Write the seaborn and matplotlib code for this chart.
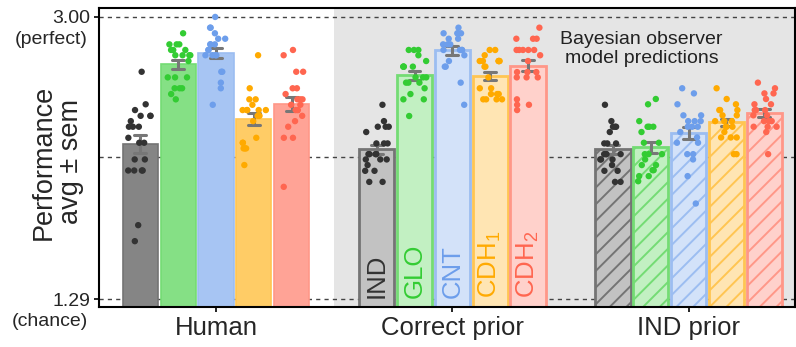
import numpy as np
import pandas as pd
import matplotlib
matplotlib.use("Agg")
import matplotlib.pyplot as plt
import seaborn as sns
from matplotlib.colors import to_rgb

# ---------------- data ----------------
groups = ["Human", "Correct prior", "IND prior"]
models = ["IND", "GLO", "CNT", "CDH1", "CDH2"]
model_labels = ["IND", "GLO", "CNT", r"CDH$_\mathregular{1}$", r"CDH$_\mathregular{2}$"]
model_colors = ["#333333", "#33cc33", "#6d9eeb", "#ffaa00", "#ff6650"]

y_ticks = [1.29, 3.00]
y_tick_labels = ["1.29", "3.00"]
y_tick_notes = ["(chance)", "(perfect)"]
ref_lines = [1.29, 2.15, 3.00]

human_IND = [2.668, 2.471, 2.436, 2.401, 2.401, 2.401, 2.369, 2.335, 2.335, 2.335, 2.268,
             2.238, 2.238, 2.137, 2.137, 2.070, 2.070, 2.070, 2.070, 1.739, 1.642]
human_GLO = [2.901, 2.834, 2.834, 2.834, 2.800, 2.800, 2.800, 2.768, 2.768, 2.768, 2.768,
             2.733, 2.634, 2.634, 2.634, 2.568, 2.568, 2.568, 2.533, 2.501]
human_CNT = [3.000, 2.935, 2.935, 2.901, 2.868, 2.868, 2.834, 2.834, 2.834, 2.800, 2.800,
             2.768, 2.768, 2.768, 2.768, 2.668, 2.668, 2.602, 2.568, 2.468]
human_CDH1 = [2.768, 2.568, 2.501, 2.501, 2.468, 2.436, 2.436, 2.436, 2.436, 2.436, 2.401,
              2.401, 2.369, 2.268, 2.238, 2.238, 2.204, 2.204, 2.204, 2.103]
human_CDH2 = [2.800, 2.768, 2.668, 2.668, 2.568, 2.568, 2.533, 2.501, 2.501, 2.501, 2.468,
              2.468, 2.436, 2.436, 2.401, 2.369, 2.335, 2.268, 2.268, 1.971]

correct_IND = [2.468, 2.369, 2.335, 2.335, 2.335, 2.303, 2.234, 2.234, 2.234, 2.169, 2.169,
               2.169, 2.169, 2.137, 2.137, 2.137, 2.103, 2.068, 2.068, 2.001, 2.001]
correct_GLO = [2.800, 2.800, 2.800, 2.768, 2.733, 2.699, 2.699, 2.699, 2.699, 2.634, 2.634,
               2.634, 2.602, 2.602, 2.602, 2.568, 2.533, 2.501, 2.501, 2.400]
correct_CNT = [2.935, 2.901, 2.901, 2.901, 2.901, 2.868, 2.868, 2.834, 2.834, 2.834, 2.800,
               2.800, 2.800, 2.800, 2.768, 2.733, 2.699, 2.699, 2.602, 2.468]
correct_CDH1 = [2.800, 2.800, 2.768, 2.733, 2.733, 2.733, 2.733, 2.733, 2.733, 2.699, 2.699,
                2.634, 2.568, 2.568, 2.533, 2.533, 2.533, 2.501, 2.501, 2.501, 2.501]
correct_CDH2 = [2.935, 2.868, 2.868, 2.868, 2.800, 2.800, 2.800, 2.800, 2.800, 2.768, 2.733,
                2.666, 2.666, 2.666, 2.634, 2.634, 2.634, 2.501, 2.468, 2.468, 2.436]

indprior_IND = [2.468, 2.369, 2.335, 2.335, 2.335, 2.303, 2.234, 2.234, 2.234, 2.169, 2.169,
                2.169, 2.169, 2.137, 2.137, 2.137, 2.103, 2.068, 2.068, 2.001, 2.001]
indprior_GLO = [2.503, 2.471, 2.369, 2.335, 2.335, 2.335, 2.303, 2.238, 2.238, 2.169, 2.169,
                2.169, 2.137, 2.103, 2.103, 2.072, 2.072, 2.036, 2.036, 2.005]
indprior_CNT = [2.568, 2.537, 2.471, 2.404, 2.404, 2.369, 2.369, 2.369, 2.335, 2.335, 2.335,
                2.303, 2.270, 2.238, 2.238, 2.169, 2.169, 2.137, 2.036, 1.870]
indprior_CDH1 = [2.568, 2.503, 2.471, 2.436, 2.436, 2.436, 2.404, 2.404, 2.369, 2.369, 2.369,
                 2.335, 2.335, 2.335, 2.303, 2.270, 2.270, 2.270, 2.169, 2.169]
indprior_CDH2 = [2.602, 2.568, 2.537, 2.537, 2.503, 2.471, 2.471, 2.436, 2.436, 2.436, 2.404,
                 2.404, 2.369, 2.369, 2.369, 2.335, 2.335, 2.335, 2.303, 2.169]

series = {
    "Human": [human_IND, human_GLO, human_CNT, human_CDH1, human_CDH2],
    "Correct prior": [correct_IND, correct_GLO, correct_CNT, correct_CDH1, correct_CDH2],
    "IND prior": [indprior_IND, indprior_GLO, indprior_CNT, indprior_CDH1, indprior_CDH2],
}

rows = []
for g in groups:
    for m, vals in zip(models, series[g]):
        for v in vals:
            rows.append({"group": g, "model": m, "perf": v})
df = pd.DataFrame(rows)

# ---------------- style ----------------
sns.set_theme(style="white")
plt.rcParams["font.family"] = ["Liberation Sans", "DejaVu Sans"]
plt.rcParams["mathtext.default"] = "regular"
plt.rcParams["hatch.linewidth"] = 1.4


def blend(c, a, bg=(1, 1, 1)):
    c = np.array(to_rgb(c))
    return tuple(a * c + (1 - a) * np.array(bg))


W, H = 796, 347
fig = plt.figure(figsize=(W / 100, H / 100), dpi=100)
ax = fig.add_axes([99 / W, 1 - 307.3 / H, (795 - 99) / W, (307.3 - 7.7) / H])

ax.axvspan(0.5, 3.0, color="#e5e5e5", zorder=0, lw=0)
for yv in ref_lines:
    ax.axhline(yv, color="#444444", ls=(0, (3, 3)), lw=1.0, zorder=0.5)

sns.barplot(data=df, x="group", y="perf", hue="model", order=groups, hue_order=models,
            palette=model_colors, errorbar="se", capsize=0.25, gap=0.07,
            err_kws={"color": "#777777", "linewidth": 2.2}, ax=ax, legend=False)

for i, cont in enumerate(ax.containers):
    base = model_colors[i]
    for j, bar in enumerate(cont):
        if j == 0:
            bar.set_facecolor(blend(base, 0.6))
            bar.set_edgecolor(blend(base, 0.68))
            bar.set_linewidth(1.2)
        else:
            bar.set_facecolor(blend(base, 0.3))
            bar.set_edgecolor(blend(base, 0.68))
            bar.set_linewidth(2.0)
            if j == 2:
                bar.set_hatch("//")

np.random.seed(3)
sns.stripplot(data=df, x="group", y="perf", hue="model", order=groups, hue_order=models,
              palette=model_colors, dodge=True, jitter=0.27, size=4.6, linewidth=0,
              ax=ax, legend=False)

# model names inside the "Correct prior" bars
for i, cont in enumerate(ax.containers):
    bar = cont[1]
    ax.text(bar.get_x() + bar.get_width() / 2, 1.30, model_labels[i], rotation=90,
            ha="center", va="bottom", color=model_colors[i], fontsize=18.5)

ax.text(1.80, 2.806, "Bayesian observer\nmodel predictions", ha="center", va="center",
        fontsize=14, color="#222222", linespacing=1.15)

ax.set_xlim(-0.495, 2.45)
ax.set_ylim(1.2414, 3.056)
ax.set_xticks(range(len(groups)))
ax.set_xticklabels(groups, fontsize=18.5)
ax.set_yticks(y_ticks)
ax.set_yticklabels(y_tick_labels, fontsize=14)
for yv, note in zip(y_ticks, y_tick_notes):
    ax.annotate(note, xy=(0, yv), xycoords=("axes fraction", "data"), xytext=(-8, -16),
                textcoords="offset points", ha="right", va="center", fontsize=14)
ax.tick_params(axis="both", direction="out", length=3.5, width=1.2, color="black",
               bottom=True, left=True, pad=3)
ax.set_xlabel("")
ax.set_ylabel("Performance\navg ± sem", fontsize=19.5, linespacing=1.05)
ax.yaxis.label.set_va("center")
ax.yaxis.set_label_coords((57 - 99) / (795 - 99), (307.3 - 162) / (307.3 - 7.7))
for s in ax.spines.values():
    s.set_color("black")
    s.set_linewidth(1.5)

fig.savefig("out.png", dpi=100)
